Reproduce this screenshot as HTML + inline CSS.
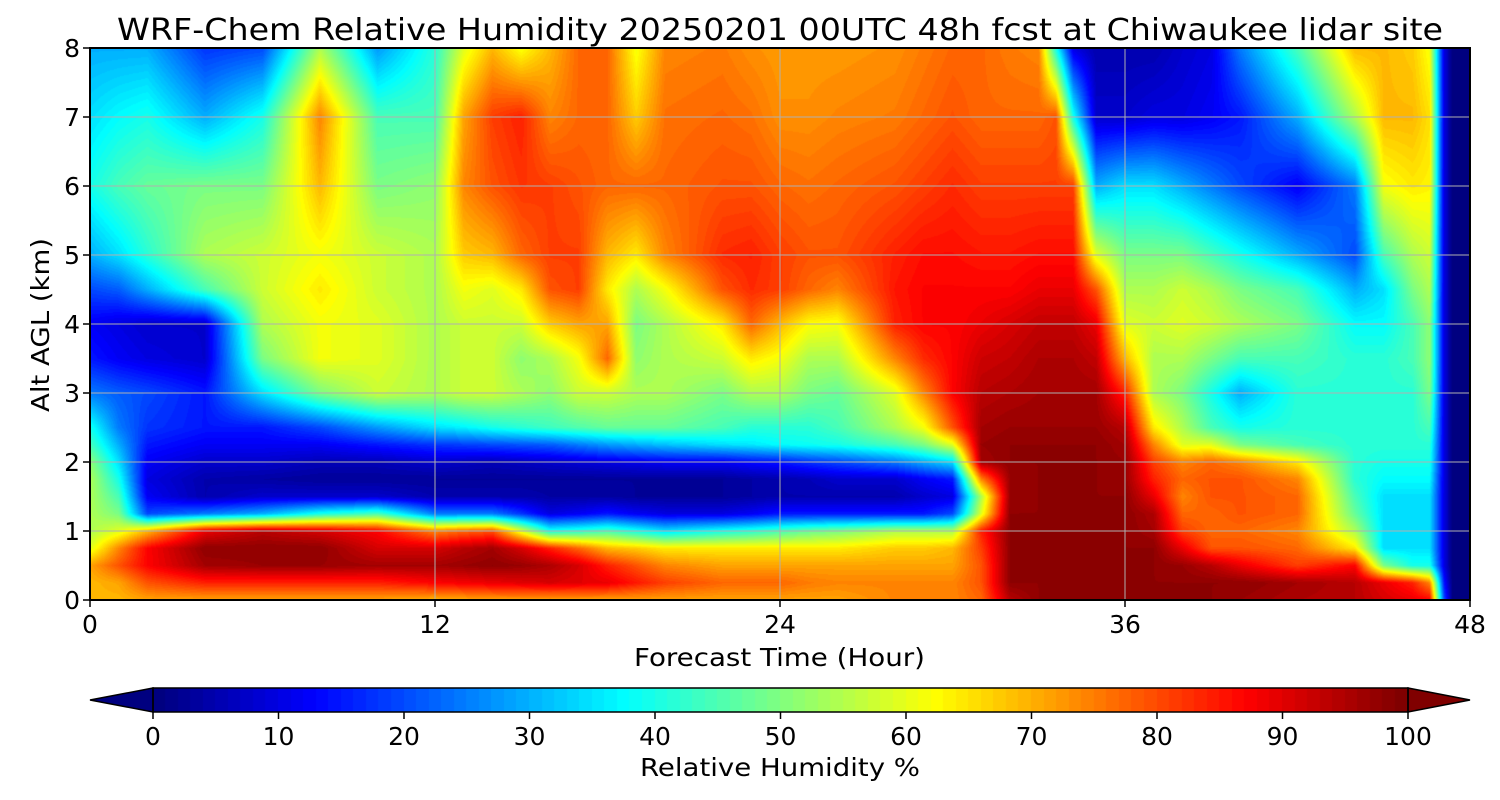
<!DOCTYPE html>
<html><head><meta charset="utf-8">
<style>
body{margin:0;background:#fff;width:1500px;height:800px;overflow:hidden;font-family:"DejaVu Sans","Liberation Sans",sans-serif;}
</style></head>
<body>
<div style="position:relative;width:1500px;height:800px;">
<canvas id="plot" width="1380" height="552" style="position:absolute;left:90px;top:48px;"></canvas>
<canvas id="cb" width="1255" height="24" style="position:absolute;left:153px;top:688px;"></canvas>
<svg id="axes" width="1500" height="800" style="position:absolute;left:0;top:0;" font-family="DejaVu Sans, Liberation Sans, sans-serif">
<text x="117" y="40" font-size="30" textLength="1326" lengthAdjust="spacingAndGlyphs">WRF-Chem Relative Humidity 20250201 00UTC 48h fcst at Chiwaukee lidar site</text>
<text x="634" y="666" font-size="25" textLength="291" lengthAdjust="spacingAndGlyphs">Forecast Time (Hour)</text>
<text x="0" y="0" font-size="25" textLength="174" lengthAdjust="spacingAndGlyphs" transform="translate(49,412) rotate(-90)">Alt AGL (km)</text>
<text x="640" y="776" font-size="25" textLength="280" lengthAdjust="spacingAndGlyphs">Relative Humidity %</text>
</svg>
</div>
<script>
const times=[0,1,2,4,6,8,10,12,13,14,15,16,17,18,19,20,22,23,24,25,26,28,29,30,31,32,33,33.6,34.2,35,36,37,38,39,40,42,44,45,46,46.6,47.1,47.4,48];
const alts=[0,0.25,0.5,0.75,1,1.25,1.5,1.75,2,2.25,2.5,3,3.5,4,4.5,5,6,7,8];
const rh=[
[70,70,72,60,55,55,55,55,52,45,40,25,15,12,20,30,40,35,30],
[70,72,80,75,60,50,45,40,35,30,25,22,12,10,22,35,45,38,30],
[72,80,88,88,70,20,12,10,12,15,18,20,10,8,30,42,48,40,30],
[72,85,97,99,90,25,5,5,8,12,15,15,8,8,45,55,50,30,18],
[72,85,98,99,95,30,8,4,8,12,15,35,50,55,58,58,50,40,20],
[72,85,98,99,92,40,8,3,6,12,20,50,62,62,65,62,70,75,55],
[72,85,97,92,88,45,8,3,6,15,28,58,60,60,58,58,50,45,28],
[70,88,97,92,75,25,5,3,8,18,35,55,55,55,55,55,52,45,42],
[71,89,98,95,78,25,5,3,7,19,37,58,58,58,62,68,75,72,60],
[72,90,99,97,80,25,5,3,6,20,40,58,58,58,60,70,80,82,70],
[72,91,98,92,60,18,5,3,7,21,42,55,52,58,65,78,83,85,62],
[72,92,96,85,40,10,4,3,8,22,44,52,55,68,80,82,82,75,70],
[72,91,92,78,42,12,4,3,9,25,46,58,62,72,82,82,80,78,78],
[72,90,85,70,45,15,4,3,10,28,48,58,78,72,65,70,78,78,78],
[72,86,80,68,40,12,3,3,11,30,48,55,52,50,55,65,78,68,62],
[72,82,75,65,35,10,3,3,12,32,48,55,55,55,62,75,78,77,75],
[72,78,72,65,40,10,3,3,12,35,45,50,58,65,80,84,80,78,76],
[72,78,72,65,42,12,4,4,14,36,42,55,65,78,84,85,80,77,74],
[72,78,72,65,45,15,5,5,15,38,42,55,62,70,82,82,78,74,73],
[72,76,72,65,48,15,5,6,18,39,42,50,55,63,78,80,77,74,73],
[72,75,72,65,50,15,5,8,20,40,45,48,55,62,75,80,78,75,73],
[75,75,72,68,55,15,5,8,25,45,55,60,75,85,86,85,80,76,74],
[75,75,72,68,55,15,8,12,30,50,62,75,84,88,88,87,82,78,76],
[75,75,72,70,55,20,10,15,35,60,80,88,88,88,88,87,84,80,78],
[78,80,80,82,85,60,55,75,97,98,97,95,93,90,88,86,82,78,78],
[95,99,99,99,99,99,98,98,99,99,98,96,94,92,88,86,82,78,76],
[99,99,99,99,99,99,99,99,99,99,98,97,96,94,90,87,82,78,75],
[99,99,99,99,99,99,99,99,99,99,98,97,96,94,90,87,82,80,40],
[99,99,99,99,99,99,99,99,99,99,98,97,96,94,90,87,82,40,10],
[99,99,99,99,99,99,99,99,99,99,98,97,94,90,80,60,30,8,5],
[99,99,99,99,99,99,99,98,98,97,95,85,70,60,55,50,35,8,5],
[99,99,99,99,97,96,90,85,82,75,65,55,55,58,55,50,35,10,5],
[99,99,98,90,82,78,75,78,75,60,55,50,55,60,58,50,30,10,8],
[99,99,95,80,78,78,80,80,78,60,45,40,50,58,55,45,25,12,10],
[98,99,90,80,78,80,80,80,75,50,40,30,45,55,50,40,20,15,25],
[96,97,82,78,75,78,78,75,65,45,42,42,45,50,45,30,12,30,45],
[95,95,88,65,55,48,45,42,42,42,42,42,42,38,30,20,25,55,70],
[92,90,50,35,35,35,35,38,40,42,42,42,42,38,35,45,62,70,70],
[90,85,40,35,35,35,35,38,40,42,42,42,45,45,50,55,65,70,68],
[88,75,40,35,35,35,35,38,40,42,45,50,52,52,55,58,64,66,62],
[20,15,10,10,10,10,10,10,10,10,10,10,10,10,10,10,10,10,10],
[0,0,0,0,0,0,0,0,0,0,0,0,0,0,0,0,0,0,0],
[0,0,0,0,0,0,0,0,0,0,0,0,0,0,0,0,0,0,0]];
const xTicks=[0,12,24,36,48];
const yTicks=[0,1,2,3,4,5,6,7,8];
const cbTicks=[0,10,20,30,40,50,60,70,80,90,100];

const X0=90,X1=1470,Y0=600,Y1=48;
const xs=t=>X0+(t/48)*(X1-X0);
const ys=a=>Y0-(a/8)*(Y0-Y1);
function cl(v){return Math.max(0,Math.min(1,v));}
function jet(x){return [cl(1.5-Math.abs(4*x-3)),cl(1.5-Math.abs(4*x-2)),cl(1.5-Math.abs(4*x-1))].map(v=>Math.round(v*255));}
function idx(arr,v){let i=0;while(i<arr.length-2&&arr[i+1]<v)i++;return i;}

const cv=document.getElementById('plot'),ctx=cv.getContext('2d');
const W=cv.width,H=cv.height,img=ctx.createImageData(W,H);
for(let px=0;px<W;px++){
  const t=(px+0.5)/W*48,i=idx(times,t),ft=cl((t-times[i])/(times[i+1]-times[i]));
  for(let py=0;py<H;py++){
    const a=(H-py-0.5)/H*8,j=idx(alts,a),fa=cl((a-alts[j])/(alts[j+1]-alts[j]));
    const v=(rh[i][j]*(1-ft)+rh[i+1][j]*ft)*(1-fa)+(rh[i][j+1]*(1-ft)+rh[i+1][j+1]*ft)*fa;
    const q=Math.floor(cl(v/100)*99)/99;
    const c=jet(q),k=(py*W+px)*4;
    img.data[k]=c[0];img.data[k+1]=c[1];img.data[k+2]=c[2];img.data[k+3]=255;
  }
}
ctx.putImageData(img,0,0);

const cb=document.getElementById('cb'),cctx=cb.getContext('2d');
for(let s=0;s<100;s++){const c=jet(s/99);cctx.fillStyle=`rgb(${c})`;cctx.fillRect(Math.floor(s*cb.width/100),0,Math.ceil(cb.width/100)+1,24);}

const NS='http://www.w3.org/2000/svg',svg=document.getElementById('axes');
function mk(tag,attrs,txt){const e=document.createElementNS(NS,tag);for(const k in attrs)e.setAttribute(k,attrs[k]);if(txt!==undefined)e.textContent=txt;svg.appendChild(e);return e;}
xTicks.forEach(t=>{
  const g=mk('line',{x1:xs(t),x2:xs(t),y1:Y1,y2:Y0,stroke:'#b0b0b0','stroke-width':1});
  
  
  mk('line',{x1:xs(t),x2:xs(t),y1:Y0,y2:Y0+7,stroke:'#000','stroke-width':1.5});
  const l=mk('text',{x:xs(t),y:Y0+33,'text-anchor':'middle','font-size':25},t);
  
  
});
yTicks.forEach(a=>{
  const g=mk('line',{x1:X0,x2:X1,y1:ys(a),y2:ys(a),stroke:'#b0b0b0','stroke-width':1});
  
  
  mk('line',{x1:X0-7,x2:X0,y1:ys(a),y2:ys(a),stroke:'#000','stroke-width':1.5});
  const l=mk('text',{x:X0-10,y:ys(a)+9,'text-anchor':'end','font-size':25},a);
  
  
});
const fr=mk('rect',{x:X0,y:Y1,width:X1-X0,height:Y0-Y1,fill:'none',stroke:'#000','stroke-width':2});


const c0=jet(0),c1=jet(1);
const e1=mk('polygon',{points:'153,688 90,700 153,712',fill:`rgb(${c0})`,stroke:'#000','stroke-width':1.5});


const e2=mk('polygon',{points:'1408,688 1470,700 1408,712',fill:`rgb(${c1})`,stroke:'#000','stroke-width':1.5});


mk('rect',{x:153,y:688,width:1255,height:24,fill:'none',stroke:'#000','stroke-width':1.5});
const cbx=v=>153+v/100*1255;
cbTicks.forEach(v=>{
  mk('line',{x1:cbx(v),x2:cbx(v),y1:712,y2:719,stroke:'#000','stroke-width':1.5});
  const l=mk('text',{x:cbx(v),y:745,'text-anchor':'middle','font-size':25},v);
  
  
});
</script>
</body></html>
